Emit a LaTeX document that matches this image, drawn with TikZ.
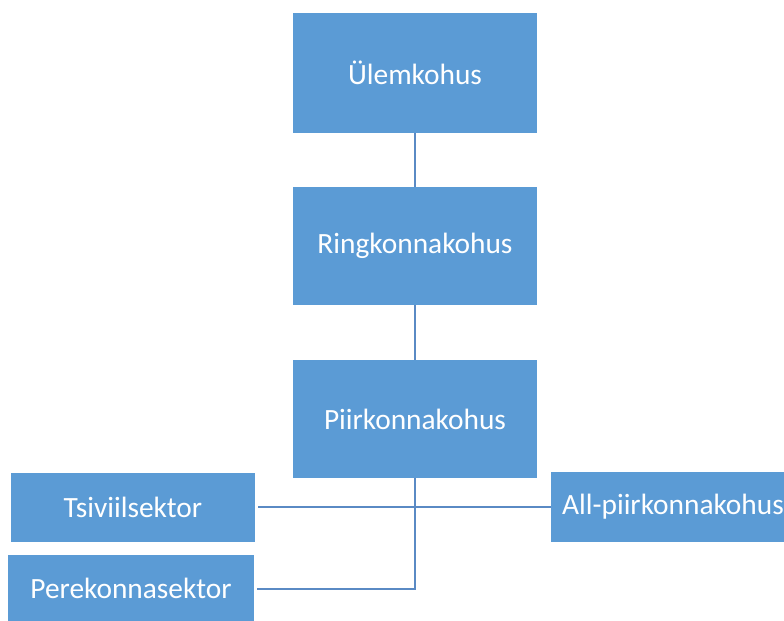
\documentclass[tikz,border=0pt]{standalone}
\usepackage{fontspec}
\setmainfont{Carlito}
\definecolor{kastsinine}{HTML}{5B9BD5}
\definecolor{joonsinine}{HTML}{5A8AC4}

\begin{document}
\begin{tikzpicture}[x=1bp, y=-1bp,
		kast/.style = {fill = kastsinine, text = white, inner sep = 0pt, font = \fontsize{29.5}{34}\selectfont},
		joon/.style = {draw = joonsinine, line width = 2bp}]
		\clip (0,0) rectangle (784,621);
		\node [kast, minimum width = 244bp, minimum height = 120bp] (ulem) at (415,73) {Ülemkohus};
		\node [kast, minimum width = 244bp, minimum height = 118bp] (ring) at (415,246) {Ringkonnakohus};
		\node [kast, minimum width = 244bp, minimum height = 118bp] (piir) at (415,419) {Piirkonnakohus};
		\node [kast, minimum width = 244bp, minimum height = 69bp] (tsiv) at (133,507) {Tsiviilsektor};
		\node [kast, minimum width = 245bp, minimum height = 67bp] (pere) at (131,588.5) {Perekonnasektor};
		\node [kast, minimum width = 244bp, minimum height = 70bp] (allp) at (673,507) {All-piirkonnakohus};
		\draw [joon] (ulem) -- (ring);
		\draw [joon] (ring) -- (piir);
		\draw [joon] (tsiv.east) ++(3,0) coordinate (tsivots) -- (allp.west);
		\draw [joon] (piir.south) |- ([xshift=3bp]pere.east);
	\end{tikzpicture}
\end{document}
